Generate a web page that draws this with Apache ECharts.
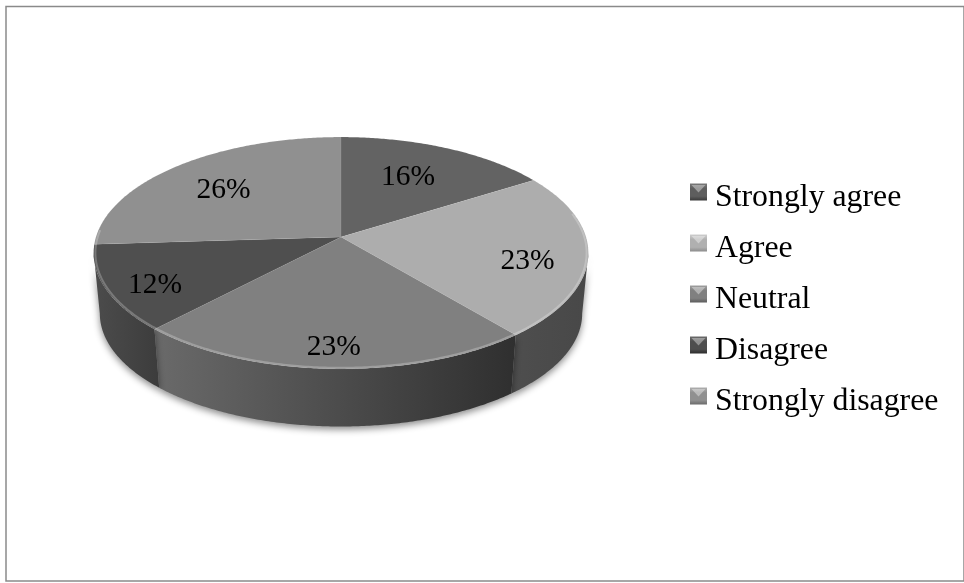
<!DOCTYPE html>
<html><head><meta charset="utf-8">
<style>html,body{margin:0;padding:0;background:#fff}#c{width:964px;height:583px}</style>
<script src="https://cdn.jsdelivr.net/npm/echarts@6/dist/echarts.min.js"></script>
</head><body><div id="c"></div>
<script>
const categories = ['Strongly agree','Agree','Neutral','Disagree','Strongly disagree'];
const shares = [16,23,23,12,26];

// styles (separate from the data)
const faceColors = ['#636363','#adadad','#808080','#4f4f4f','#909090'];
const wallStops = [
  null,
  ['#4e4e4e','#484848'],
  ['#6a6a6a','#2f2f2f'],
  ['#4c4c4c','#3c3c3c'],
  null
];
const iconStops = [
  ['#7a7a7a','#5e5e5e','#3a3a3a'],
  ['#cfcfcf','#b0b0b0','#8c8c8c'],
  ['#a0a0a0','#808080','#5c5c5c'],
  ['#6c6c6c','#4e4e4e','#2c2c2c'],
  ['#b0b0b0','#909090','#6a6a6a']
];
const labelReach = [0.64,0.77,0.84,0.82,0.72];
const labelNudge = [[-3,-1],[-3,10],[0,2],[5,7],[3,6]];
const CX=341, APEX=237, TILT=0.138, SLOPE=-81, RAD=245, DEPTH_SCALE=0.975, ELL_CY=252.5, DEPTH_DY=60.5;
const LEGEND_LEFT=690, LEGEND_TOP=180, ICON=17, ICON_BOX=29, ROW=51, ICON_CENTER_Y=192;
// square key sitting in the upper part of a taller box, so it rides above the text centre
const keyPath='path://M0,0H17V17H0Z M0,29H0.01V29.01H0Z';
const squareEnd=ICON/ICON_BOX;

function face(theta,f){
  const u=Math.cos(theta)*f, d=1+TILT*u;
  return [CX+RAD*Math.sin(theta)*f/d,(SLOPE*u+APEX)/d];
}
function under(theta){
  const p=face(theta,1);
  return [CX+(p[0]-CX)*DEPTH_SCALE, ELL_CY+DEPTH_DY+(p[1]-ELL_CY)*DEPTH_SCALE];
}
function arc(fn,a,b){
  const out=[],n=Math.max(2,Math.ceil(Math.abs(b-a)/0.01));
  for(let i=0;i<=n;i++) out.push(fn(a+(b-a)*i/n));
  return out;
}
const WALL_A=Math.acos(-TILT), WALL_B=2*Math.PI-WALL_A;
const angle=v=>v/100*2*Math.PI;

function renderSlice(idx){
  return function(params,api){
    const value=api.value(0), start=api.value(1);
    const a=angle(start), b=angle(start+value);
    const children=[];
    const wa=Math.max(a,WALL_A), wb=Math.min(b,WALL_B);
    if(wb>wa){
      const top=arc(t=>face(t,1),wa,wb), bot=arc(under,wb,wa);
      const s=wallStops[idx];
      children.push({type:'polygon',z2:1,shape:{points:top.concat(bot)},
        style:{fill:{type:'linear',x:0,y:0,x2:1,y2:0,colorStops:[{offset:0,color:s[0]},{offset:1,color:s[1]}]},
          shadowBlur:7,shadowColor:'rgba(0,0,0,0.45)',shadowOffsetY:3}});
    }
    const pts=[face(a,0)].concat(arc(t=>face(t,1),a,b));
    children.push({type:'polygon',z2:3,shape:{points:pts},
      style:{fill:faceColors[idx],stroke:'rgba(255,255,255,0.08)',lineWidth:0.8}});
    const ra=Math.max(a,WALL_A-0.35), rb=Math.min(b,WALL_B+0.2);
    if(rb>ra){
      children.push({type:'polyline',z2:4,shape:{points:arc(t=>face(t,0.993),ra,rb)},
        style:{fill:null,stroke:'rgba(255,255,255,0.24)',lineWidth:2}});
    }
    const pos=face(angle(start+value/2),labelReach[idx]);
    children.push({type:'text',z2:5,x:pos[0]+labelNudge[idx][0],y:pos[1]+labelNudge[idx][1],
      style:{text:value+'%',font:'29.5px "Liberation Serif"',fill:'#000',align:'center',verticalAlign:'middle'}});
    return {type:'group',children};
  };
}

let running=0;
const series=categories.map((name,i)=>{
  const row=[shares[i],running]; running+=shares[i];
  return {type:'custom',name,coordinateSystem:'none',renderItem:renderSlice(i),data:[row],
    silent:true,animation:false,clip:false,
    itemStyle:{color:{type:'linear',x:0,y:0,x2:0,y2:1,colorStops:[
      {offset:0,color:iconStops[i][0]},{offset:0.3*squareEnd,color:iconStops[i][1]},
      {offset:0.75*squareEnd,color:iconStops[i][1]},{offset:squareEnd,color:iconStops[i][2]},{offset:1,color:iconStops[i][2]}]}}};
});

// bevel highlight on each legend key
const bevels=categories.map((_,i)=>{
  const y=ICON_CENTER_Y+ROW*i;
  return {type:'polygon',z:20,shape:{points:[[LEGEND_LEFT+1.5,y-7],[LEGEND_LEFT+ICON-1.5,y-7],[LEGEND_LEFT+ICON/2,y+0.5]]},
    style:{fill:'rgba(255,255,255,0.38)'}};
});

const chart=echarts.init(document.getElementById('c'),null,{renderer:'canvas'});
chart.setOption({
  animation:false,
  backgroundColor:'#fff',
  graphic:[{type:'rect',z:-1,shape:{x:6,y:6.5,width:958,height:574.5},
    style:{fill:'none',stroke:'#8a8a8a',lineWidth:1.5}}].concat(bevels),
  legend:{orient:'vertical',left:LEGEND_LEFT,top:LEGEND_TOP,padding:0,itemWidth:ICON,itemHeight:ICON_BOX,itemGap:15,icon:keyPath,
    data:categories,selectedMode:false,
    textStyle:{fontFamily:'Liberation Serif',fontSize:31.8,color:'#000',padding:[0,0,0,3],lineHeight:36}},
  series
});
</script></body></html>
